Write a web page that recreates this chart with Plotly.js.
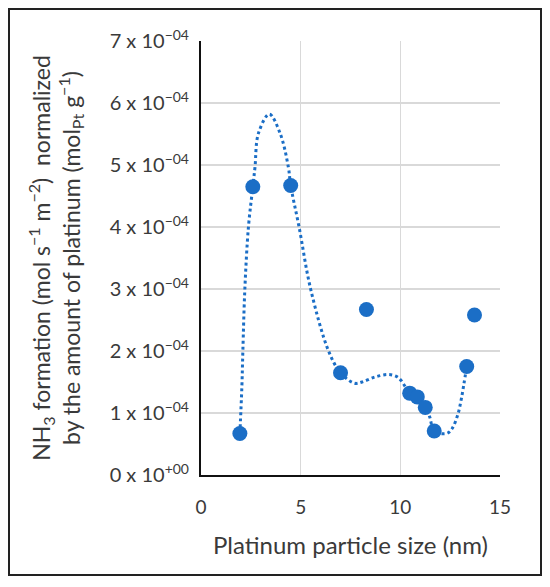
<!DOCTYPE html>
<html>
<head>
<meta charset="utf-8">
<script src="https://cdn.plot.ly/plotly-3.0.1.min.js"></script>
<style>
  body { margin: 0; background: #fff; }
  #frame { position: absolute; left: 8px; top: 8px; width: 530px; height: 564px; border: 2px solid #222; pointer-events: none; }
  #chart { width: 550px; height: 587px; }
</style>
</head>
<body>
<div id="chart"></div>
<div id="frame"></div>
<script>
// measured points: particle size (nm) vs NH3 formation (mol s-1 m-2 per mol Pt g-1)
var sizeNm = [1.95, 2.6, 4.5, 7.0, 8.3, 10.47, 10.85, 11.25, 11.7, 13.33, 13.72];
var nh3Rate = [0.67e-4, 4.65e-4, 4.67e-4, 1.65e-4, 2.67e-4, 1.32e-4, 1.26e-4, 1.09e-4, 0.71e-4, 1.75e-4, 2.58e-4];

// dotted guide curve
var curveX = [1.95, 2.05, 2.1, 2.2, 2.38, 2.6, 2.71, 2.88, 3.43, 3.97, 4.38, 4.5, 4.92, 5.5, 6.4, 7.0, 7.7, 8.08, 8.72, 9.38, 9.8, 10.05, 10.47, 10.85, 11.25, 11.47, 11.7, 12.33, 12.6, 12.88, 13.05, 13.18, 13.33];
var curveY = [0.67e-4, 1.42e-4, 2.0e-4, 3.0e-4, 4.0e-4, 4.65e-4, 4.97e-4, 5.51e-4, 5.82e-4, 5.51e-4, 4.97e-4, 4.67e-4, 4.0e-4, 3.0e-4, 2.0e-4, 1.65e-4, 1.48e-4, 1.50e-4, 1.58e-4, 1.62e-4, 1.59e-4, 1.52e-4, 1.32e-4, 1.26e-4, 1.09e-4, 0.94e-4, 0.71e-4, 0.67e-4, 0.75e-4, 0.97e-4, 1.21e-4, 1.45e-4, 1.75e-4];

var yTickVals = [0, 1e-4, 2e-4, 3e-4, 4e-4, 5e-4, 6e-4, 7e-4];
var yTickText = ['0 x 10<sup>+00</sup>', '1 x 10<sup>\u221204</sup>', '2 x 10<sup>\u221204</sup>', '3 x 10<sup>\u221204</sup>',
                 '4 x 10<sup>\u221204</sup>', '5 x 10<sup>\u221204</sup>', '6 x 10<sup>\u221204</sup>', '7 x 10<sup>\u221204</sup>'];
var xTickVals = [0, 5, 10, 15];

var blue = '#1b6ec6';

var curve = {
    x: curveX,
    y: curveY,
    type: 'scatter',
    mode: 'lines',
    line: {color: blue, width: 3, dash: 'dot', shape: 'spline', smoothing: 1},
    hoverinfo: 'skip'
};
var points = {
    x: sizeNm,
    y: nh3Rate,
    type: 'scatter',
    mode: 'markers',
    marker: {color: blue, size: 15}
};

var layout = {
    width: 550,
    height: 587,
    showlegend: false,
    paper_bgcolor: '#fff',
    plot_bgcolor: '#fff',
    font: {family: 'Lato, "Noto Sans", sans-serif', color: '#3a3a3a', size: 16},
    margin: {l: 201, r: 50, t: 41, b: 112},
    xaxis: {
        range: [0, 15],
        tickvals: xTickVals,
        ticks: '',
        ticklabelstandoff: 14,
        showgrid: true,
        gridcolor: '#d9d9d9',
        gridwidth: 1.5,
        zeroline: false,
        showline: true,
        linecolor: '#111',
        linewidth: 2,
        tickfont: {size: 19},
        title: {text: 'Platinum particle size (nm)', font: {size: 24}, standoff: 20}
    },
    yaxis: {
        range: [0, 7e-4],
        tickvals: yTickVals,
        ticktext: yTickText,
        ticks: '',
        ticklabelstandoff: 6,
        showgrid: true,
        gridcolor: '#d9d9d9',
        gridwidth: 1.5,
        zeroline: false,
        showline: true,
        linecolor: '#111',
        linewidth: 2,
        tickfont: {size: 20},
        title: {
            text: 'NH<sub>3</sub> formation (mol s<sup>\u22121</sup> m<sup>\u22122</sup>)  normalized<br>by the amount of platinum (mol<sub>Pt</sub> g<sup>\u22121</sup>)',
            font: {size: 23},
            standoff: 23
        }
    }
};

Plotly.newPlot('chart', [curve, points], layout, {displayModeBar: false, staticPlot: true});
</script>
</body>
</html>
